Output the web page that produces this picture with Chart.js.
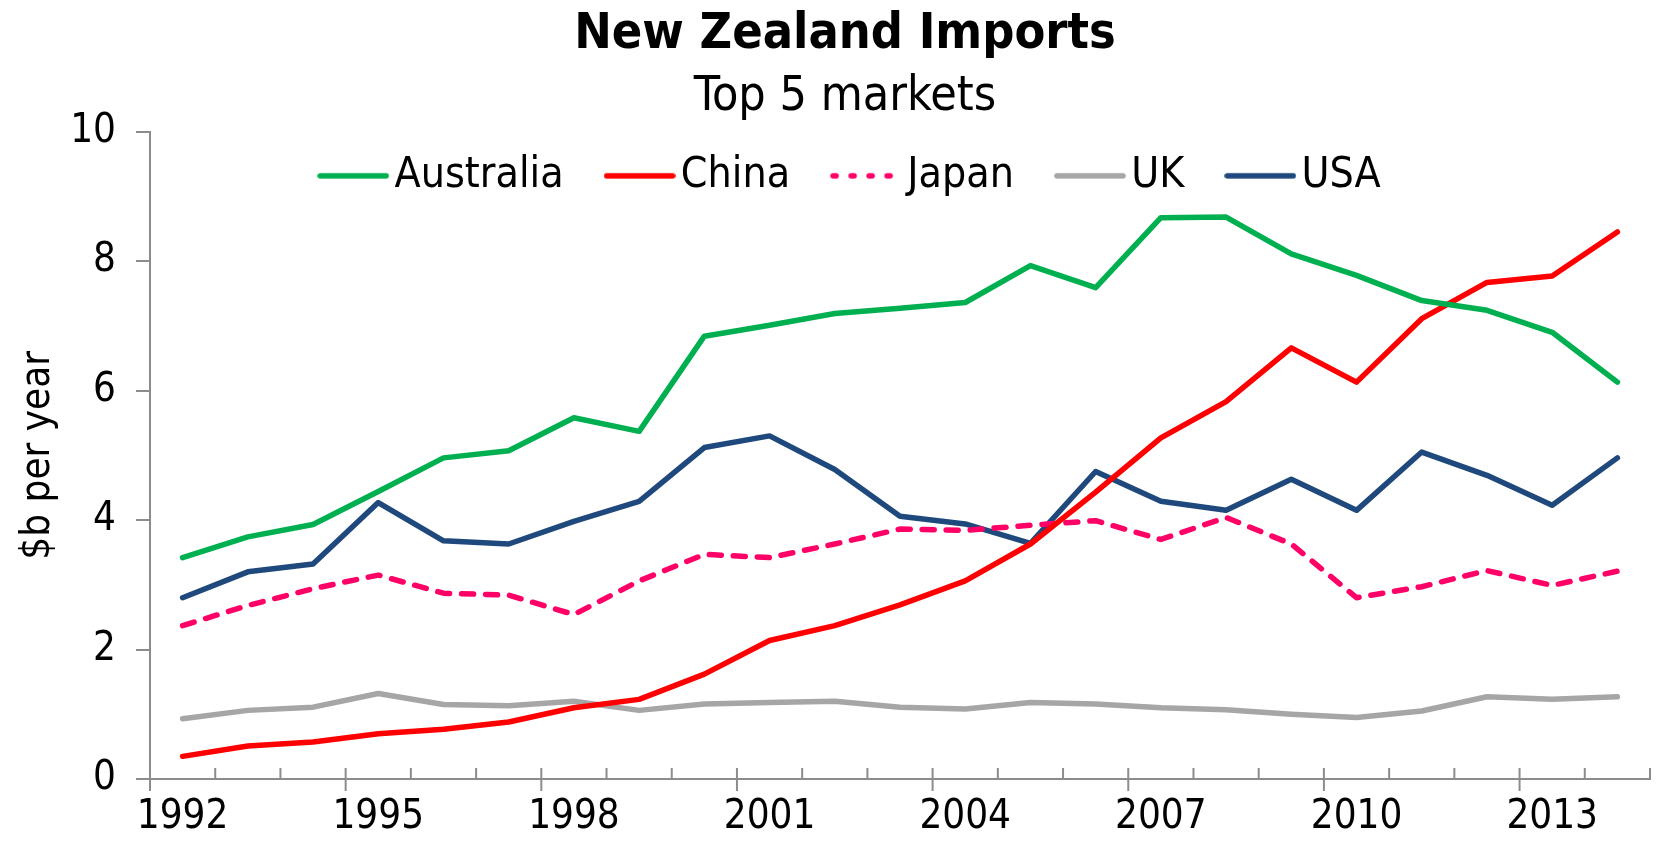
<!DOCTYPE html>
<html>
<head>
<meta charset="utf-8">
<script src="https://cdn.jsdelivr.net/npm/chart.js@4"></script>
<style>
  html, body { margin: 0; padding: 0; background: #ffffff; }
  #c { display: block; }
</style>
</head>
<body>
<canvas id="c" width="1658" height="855"></canvas>
<script>
// ---- data ----
const years = ['1992','1993','1994','1995','1996','1997','1998','1999','2000','2001','2002','2003',
               '2004','2005','2006','2007','2008','2009','2010','2011','2012','2013','2014'];
const tickLabels = ['1992','1995','1998','2001','2004','2007','2010','2013'];
const australia = [3.42,3.74,3.93,4.44,4.96,5.07,5.58,5.37,6.84,7.01,7.19,7.27,7.36,7.93,7.59,8.67,8.68,8.11,7.78,7.39,7.24,6.90,6.13];
const china     = [0.35,0.51,0.57,0.70,0.77,0.88,1.10,1.23,1.62,2.14,2.37,2.69,3.06,3.63,4.43,5.27,5.83,6.66,6.13,7.11,7.67,7.77,8.45];
const japan     = [2.37,2.68,2.94,3.15,2.87,2.84,2.54,3.06,3.47,3.42,3.63,3.86,3.84,3.92,3.99,3.70,4.04,3.63,2.80,2.97,3.22,2.99,3.21];
const uk        = [0.93,1.06,1.11,1.32,1.15,1.13,1.20,1.06,1.16,1.18,1.20,1.11,1.08,1.18,1.16,1.10,1.07,1.00,0.95,1.05,1.27,1.23,1.27];
const usa       = [2.80,3.20,3.32,4.27,3.68,3.63,3.98,4.29,5.12,5.30,4.78,4.06,3.94,3.64,4.75,4.29,4.15,4.63,4.15,5.05,4.69,4.23,4.96];

// ---- styles ----
const FONT = "'DejaVu Sans Condensed', 'DejaVu Sans', sans-serif";
const AXIS = '#8c8c8c';
const LW = 5.5;

// legend swatch: a short line drawn on a small canvas
function legendLine(color, dash) {
  const c = document.createElement('canvas');
  c.width = 72; c.height = 10;
  const g = c.getContext('2d');
  g.strokeStyle = color; g.lineWidth = LW; g.lineCap = 'round';
  g.setLineDash(dash || []);
  g.beginPath(); g.moveTo(3, 5); g.lineTo(69, 5); g.stroke();
  return c;
}

function ds(label, data, color, dash, legendDash) {
  return {
    label, data,
    borderColor: color, backgroundColor: color,
    borderWidth: LW,
    borderDash: dash || [],
    borderCapStyle: 'round',
    borderJoinStyle: 'round',
    pointRadius: 0, pointHoverRadius: 0,
    pointStyle: legendLine(color, legendDash || dash),
    tension: 0, fill: false
  };
}

const axisTicks = {
  id: 'axisTicks',
  beforeLayout(chart) {
    const lg = chart.legend;
    if (lg && !lg._noSpace) {
      const f = lg.fit;
      lg.fit = function () { f.call(this); this.height = 0; };
      lg._noSpace = true;
    }
  },
  afterLayout(chart) {
    const lg = chart.legend, ca = chart.chartArea;
    if (lg) {
      lg.left = lg.left + 24;
      lg.top = ca.top - 33;
      lg.bottom = lg.top + 120;
    }
  },
  beforeDatasetsDraw(chart) {
    const xs = chart.scales.x;
    const ctx = chart.ctx;
    const yb = chart.chartArea.bottom;
    ctx.save();
    ctx.strokeStyle = AXIS;
    ctx.lineWidth = 2;
    for (let i = 0; i <= years.length; i++) {
      const px = xs.getPixelForValue(i - 0.5);
      const major = (i % 3 === 0) && i < years.length;
      ctx.beginPath();
      ctx.moveTo(px, yb - 11);
      ctx.lineTo(px, major ? yb + 12 : yb);
      ctx.stroke();
    }
    ctx.restore();
  }
};

new Chart(document.getElementById('c'), {
  type: 'line',
  data: {
    labels: years,
    datasets: [
      ds('Australia', australia, '#00B050'),
      ds('China', china, '#FF0000'),
      ds('Japan', japan, '#FF0066', [12, 12], [3, 15]),
      ds('UK', uk, '#A6A6A6'),
      ds('USA', usa, '#1F497D')
    ]
  },
  options: {
    responsive: false,
    animation: false,
    devicePixelRatio: 1,
    layout: { padding: { left: 40, right: 8, top: 0, bottom: 0 } },
    plugins: {
      tooltip: { enabled: false },
      title: {
        display: true,
        text: 'New Zealand Imports',
        color: '#000',
        font: { family: FONT, size: 50, weight: 'bold' },
        padding: { top: 5, bottom: 3 }
      },
      subtitle: {
        display: true,
        text: 'Top 5 markets',
        color: '#000',
        font: { family: FONT, size: 48, weight: 'normal' },
        padding: { top: 1, bottom: 5 }
      },
      legend: {
        position: 'top',
        align: 'center',
        labels: {
          usePointStyle: true,
          pointStyleWidth: 40,
          padding: 56,
          color: '#000',
          font: { family: FONT, size: 42.5 }
        }
      }
    },
    scales: {
      x: {
        type: 'category',
        offset: true,
        grid: { display: false, drawTicks: false },
        border: { display: true, color: AXIS, width: 2 },
        ticks: {
          autoSkip: false,
          maxRotation: 0,
          minRotation: 0,
          padding: 15,
          color: '#000',
          font: { family: FONT, size: 40 },
          callback: function (v, i) {
            const lab = years[i];
            return tickLabels.includes(lab) ? lab : '';
          }
        },
        afterFit: (s) => { s.height = 76; }
      },
      y: {
        min: 0, max: 10,
        grid: { drawOnChartArea: false, drawTicks: true, tickLength: 14, color: AXIS, lineWidth: 2 },
        border: { display: true, color: AXIS, width: 2 },
        ticks: {
          stepSize: 2,
          padding: 20,
          color: '#000',
          font: { family: FONT, size: 40 }
        },
        title: {
          display: true,
          text: '$b per year',
          color: '#000',
          font: { family: FONT, size: 40 },
          padding: { top: -25, bottom: 0 }
        },
        afterFit: (s) => { s.width = 110; }
      }
    }
  },
  plugins: [axisTicks]
});
</script>
</body>
</html>
